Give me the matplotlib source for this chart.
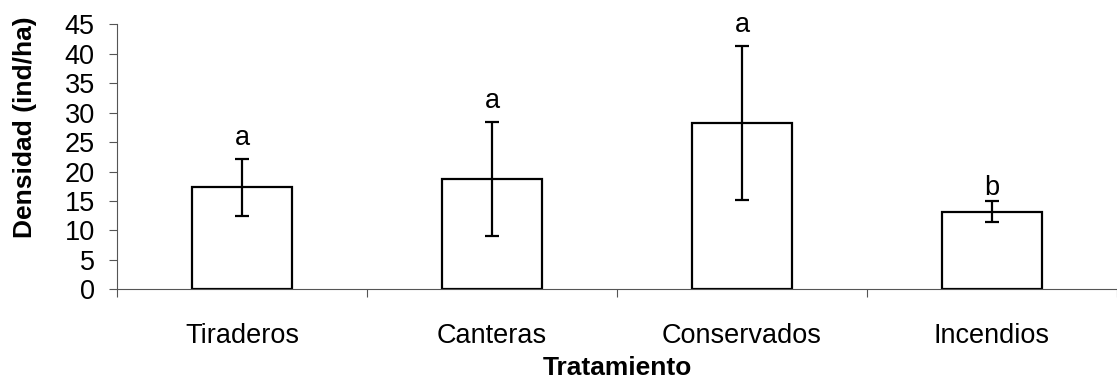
import matplotlib
matplotlib.use("Agg")
import matplotlib.pyplot as plt

plt.rcParams['font.family'] = ['Liberation Sans', 'DejaVu Sans']

# densidad media por tratamiento y su error
tratamientos = ['Tiraderos', 'Canteras', 'Conservados', 'Incendios']
densidad = [17.3, 18.7, 28.2, 13.2]
error = [4.8, 9.7, 13.1, 1.8]
letras = ['a', 'a', 'a', 'b']

fig = plt.figure(figsize=(11.17, 3.78), dpi=100)
ax = fig.add_axes([0.1047, 0.2347, 0.8953, 0.7010])

x = range(len(tratamientos))
ax.bar(x, densidad, width=0.4, color='white', edgecolor='black', linewidth=1.6, zorder=2)
ax.errorbar(x, densidad, yerr=error, fmt='none', ecolor='black', elinewidth=1.6,
            capsize=4.7, capthick=1.6, zorder=3)

# letras de significancia sobre cada barra
desfase = [6, 6, 6, 0]
for xi, m, e, l, d in zip(x, densidad, error, letras, desfase):
    ax.annotate(l, (xi, m + e), xytext=(0, d), textcoords='offset points',
                ha='center', va='bottom', fontsize=19.5)

ax.set_xlim(-0.5, 3.5)
ax.set_ylim(0, 45)
ax.set_yticks(range(0, 46, 5))
ax.set_xticks([i + 0.5 for i in range(-1, 4)])
ax.set_xticklabels([])
ax.set_xticks(list(x), minor=True)
ax.set_xticklabels(tratamientos, minor=True)
ax.tick_params(axis='x', which='minor', length=0, pad=24, labelsize=19.5)
ax.tick_params(axis='x', which='major', length=6, width=0.8, color='#555555', direction='out')
ax.tick_params(axis='y', length=6, width=0.8, color='#555555', labelsize=19.5, pad=10)

for s in ['top', 'right']:
    ax.spines[s].set_visible(False)
for s in ['left', 'bottom']:
    ax.spines[s].set_color('#555555')
    ax.spines[s].set_linewidth(0.8)

ax.set_ylabel('Densidad (ind/ha)', fontsize=19, fontweight='bold')
ax.yaxis.set_label_coords(-0.080, 0.61)
ax.set_xlabel('Tratamiento', fontsize=19, fontweight='bold')
ax.xaxis.set_label_coords(0.5, -0.25)

fig.savefig('out.png', dpi=100)
